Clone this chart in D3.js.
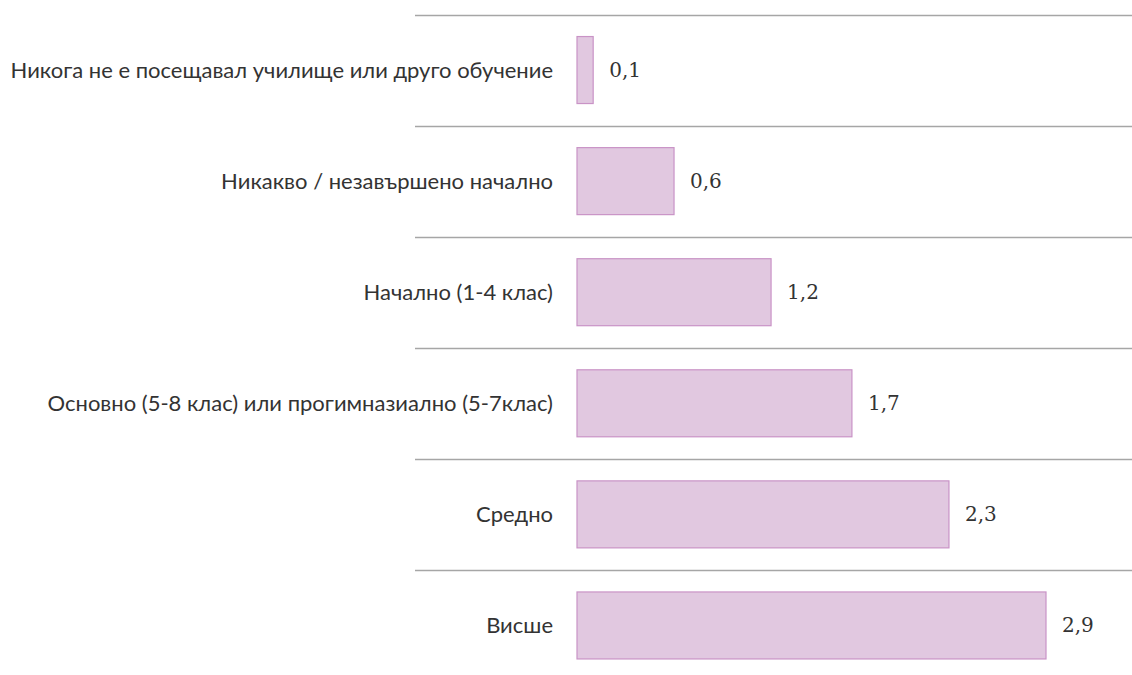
<!DOCTYPE html>
<html><head><meta charset="utf-8">
<script src="https://cdn.jsdelivr.net/npm/d3@7"></script>
<style>body{margin:0;background:#fff}</style>
</head><body>
<svg id="c" width="1132" height="675"></svg>
<script>
const categories = [
  "Никога не е посещавал училище или друго обучение",
  "Никакво / незавършено начално",
  "Начално (1-4 клас)",
  "Основно (5-8 клас) или прогимназиално (5-7клас)",
  "Средно",
  "Висше"
];
const values = [0.1, 0.6, 1.2, 1.7, 2.3, 2.9];

const svg = d3.select("#c");
const x0 = 577;
const x = d3.scaleLinear().domain([0, 2.9]).range([x0, 1046]);
const y = d3.scaleBand().domain(categories).range([14.5, 681]).paddingInner(0).paddingOuter(0);
const bandPad = (y.bandwidth() - 67) / 2;

svg.selectAll("line.grid").data(categories).enter().append("line")
  .attr("x1", 415).attr("x2", 1132)
  .attr("y1", d => Math.round(y(d)) + 0.5).attr("y2", d => Math.round(y(d)) + 0.5)
  .attr("stroke", "#a6a6a6").attr("stroke-width", 1.3);

svg.selectAll("rect.bar").data(values).enter().append("rect")
  .attr("x", x(0))
  .attr("y", (d, i) => y(categories[i]) + bandPad)
  .attr("width", d => x(d) - x(0))
  .attr("height", 67)
  .attr("fill", "#e1c8e0").attr("stroke", "#c993c6").attr("stroke-width", 1.2);

svg.selectAll("text.cat").data(categories).enter().append("text")
  .attr("x", 553).attr("y", d => y(d) + y.bandwidth() / 2)
  .attr("dy", "0.35em").attr("text-anchor", "end")
  .style("font-family", "Lato, sans-serif").style("font-size", "22px").style("fill", "#333333")
  .text(d => d);

svg.selectAll("text.val").data(values).enter().append("text")
  .attr("x", d => x(d) + 16).attr("y", (d, i) => y(categories[i]) + y.bandwidth() / 2)
  .attr("dy", "0.35em")
  .style("font-family", "'DejaVu Serif', serif").style("font-size", "20px").style("fill", "#333333")
  .text(d => d3.format(".1f")(d).replace(".", ","));
</script>
</body></html>
